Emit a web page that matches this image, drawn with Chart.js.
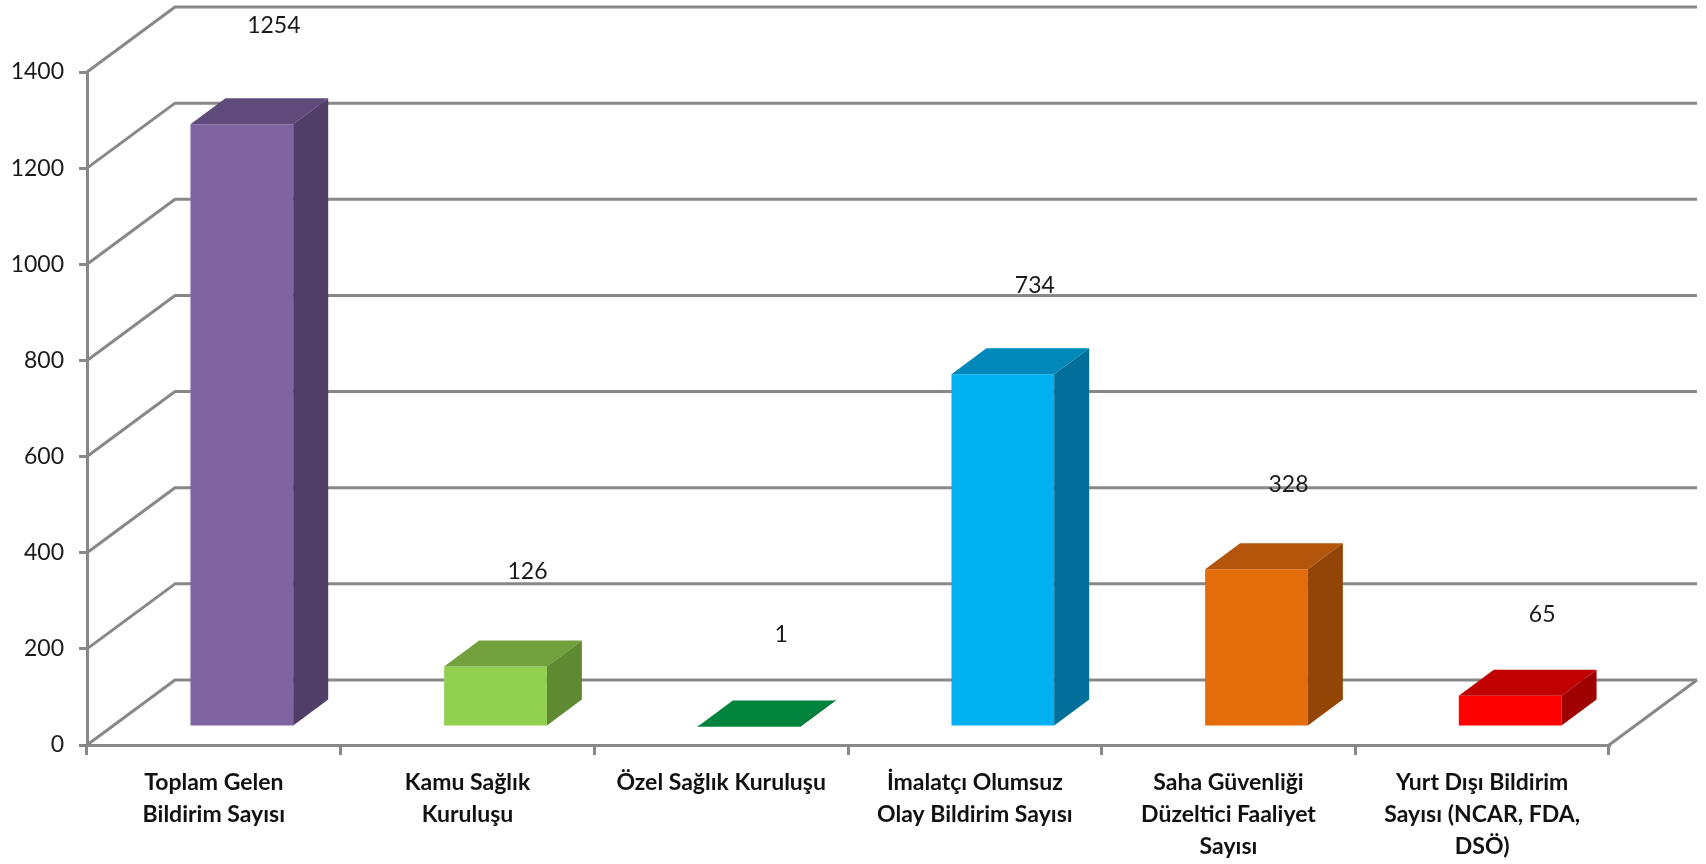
<!DOCTYPE html>
<html>
<head>
<meta charset="utf-8">
<title>Bildirim Sayıları</title>
<script src="https://cdn.jsdelivr.net/npm/chart.js@4.4.0/dist/chart.umd.min.js"></script>
<style>
  html, body { margin: 0; padding: 0; background: #fff; }
</style>
</head>
<body>
<canvas id="bildirimChart" width="1706" height="864"></canvas>
<script>
var categories = [
  ['Toplam Gelen', 'Bildirim Sayısı'],
  ['Kamu Sağlık', 'Kuruluşu'],
  ['Özel Sağlık Kuruluşu'],
  ['İmalatçı Olumsuz', 'Olay Bildirim Sayısı'],
  ['Saha Güvenliği', 'Düzeltici Faaliyet', 'Sayısı'],
  ['Yurt Dışı Bildirim', 'Sayısı (NCAR, FDA,', 'DSÖ)']
];
var counts = [1254, 126, 1, 734, 328, 65];
var yTicks = [0, 200, 400, 600, 800, 1000, 1200, 1400];

// front / top / side colour of each 3d column
var frontColors = ['#8064a2', '#92d050', '#00843d', '#00b0f0', '#e46c0a', '#ff0000'];
var topColors   = ['#604a7b', '#71a03c', '#00843d', '#0088bb', '#b3550a', '#c00000'];
var sideColors  = ['#513e68', '#5f8a32', '#006a30', '#006f99', '#934506', '#a00000'];

var lineColor = '#888888';
var WALL_DX = 88, WALL_DY = 65;   // depth of the floor / back wall
var BAR_DX = 28, BAR_DY = 18;     // columns stand a bit inside the floor
var COL_DX = 35, COL_DY = 26;     // depth of a column

var box3d = {
  id: 'box3d',
  beforeDatasetsDraw: function (chart) {
    var ctx = chart.ctx;
    var area = chart.chartArea;
    var y = chart.scales.y;
    ctx.save();
    ctx.strokeStyle = lineColor;
    ctx.lineWidth = 3;
    ctx.lineJoin = 'round';
    y.ticks.forEach(function (t) {
      var py = y.getPixelForValue(t.value);
      ctx.beginPath();
      ctx.moveTo(area.left, py);
      ctx.lineTo(area.left + WALL_DX, py - WALL_DY);
      ctx.lineTo(area.right + WALL_DX, py - WALL_DY);
      ctx.stroke();
    });
    ctx.beginPath();
    ctx.moveTo(area.right, area.bottom);
    ctx.lineTo(area.right + WALL_DX, area.bottom - WALL_DY);
    ctx.stroke();
    ctx.restore();

    ctx.save();
    ctx.translate(BAR_DX, -BAR_DY);
  },
  afterDatasetsDraw: function (chart) {
    var ctx = chart.ctx;
    var area = chart.chartArea;
    var meta = chart.getDatasetMeta(0);
    meta.data.forEach(function (el, i) {
      var p = el.getProps(['x', 'y', 'base', 'width'], true);
      var l = p.x - p.width / 2, r = p.x + p.width / 2;
      // top
      ctx.fillStyle = topColors[i];
      ctx.beginPath();
      ctx.moveTo(l, p.y);
      ctx.lineTo(r, p.y);
      ctx.lineTo(r + COL_DX, p.y - COL_DY);
      ctx.lineTo(l + COL_DX, p.y - COL_DY);
      ctx.closePath();
      ctx.fill();
      // side
      ctx.fillStyle = sideColors[i];
      ctx.beginPath();
      ctx.moveTo(r, p.y);
      ctx.lineTo(r + COL_DX, p.y - COL_DY);
      ctx.lineTo(r + COL_DX, p.base - COL_DY);
      ctx.lineTo(r, p.base);
      ctx.closePath();
      ctx.fill();
      // value
      var lift = 100 - 20 * (p.x - area.left) / (area.right - area.left);
      ctx.fillStyle = '#1a1a1a';
      ctx.font = '23px Lato';
      ctx.textAlign = 'center';
      ctx.textBaseline = 'middle';
      ctx.fillText(String(counts[i]), p.x + 32, p.y - lift);
    });
    ctx.restore();
  }
};

new Chart(document.getElementById('bildirimChart'), {
  type: 'bar',
  data: {
    labels: categories,
    datasets: [{
      data: counts,
      backgroundColor: frontColors,
      borderWidth: 0,
      barPercentage: 0.405,
      categoryPercentage: 1.0,
      clip: false
    }]
  },
  options: {
    responsive: false,
    devicePixelRatio: 1,
    animation: false,
    layout: { padding: { top: 72, right: 97, left: 0, bottom: 0 } },
    plugins: {
      legend: { display: false },
      tooltip: { enabled: false }
    },
    scales: {
      x: {
        afterFit: function (scale) { scale.height = 119; },
        grid: {
          offset: true,
          drawOnChartArea: false,
          drawTicks: true,
          tickLength: 10,
          color: lineColor,
          lineWidth: 3
        },
        border: { display: true, color: lineColor, width: 3 },
        ticks: {
          padding: 12,
          maxRotation: 0,
          autoSkip: false,
          color: '#111',
          font: { family: 'Lato', size: 23, weight: 'bold', lineHeight: '32px' }
        }
      },
      y: {
        min: yTicks[0],
        max: yTicks[yTicks.length - 1],
        afterFit: function (scale) { scale.width = 87; },
        afterBuildTicks: function (scale) {
          scale.ticks = yTicks.map(function (v) { return { value: v }; });
        },
        grid: {
          drawOnChartArea: false,
          drawTicks: true,
          tickLength: 8,
          color: lineColor,
          lineWidth: 3
        },
        border: { display: true, color: lineColor, width: 3 },
        ticks: {
          padding: 15,
          color: '#1a1a1a',
          font: { family: 'Lato', size: 23 },
          callback: function (v) { return String(v); }
        }
      }
    }
  },
  plugins: [box3d]
});
</script>
</body>
</html>
